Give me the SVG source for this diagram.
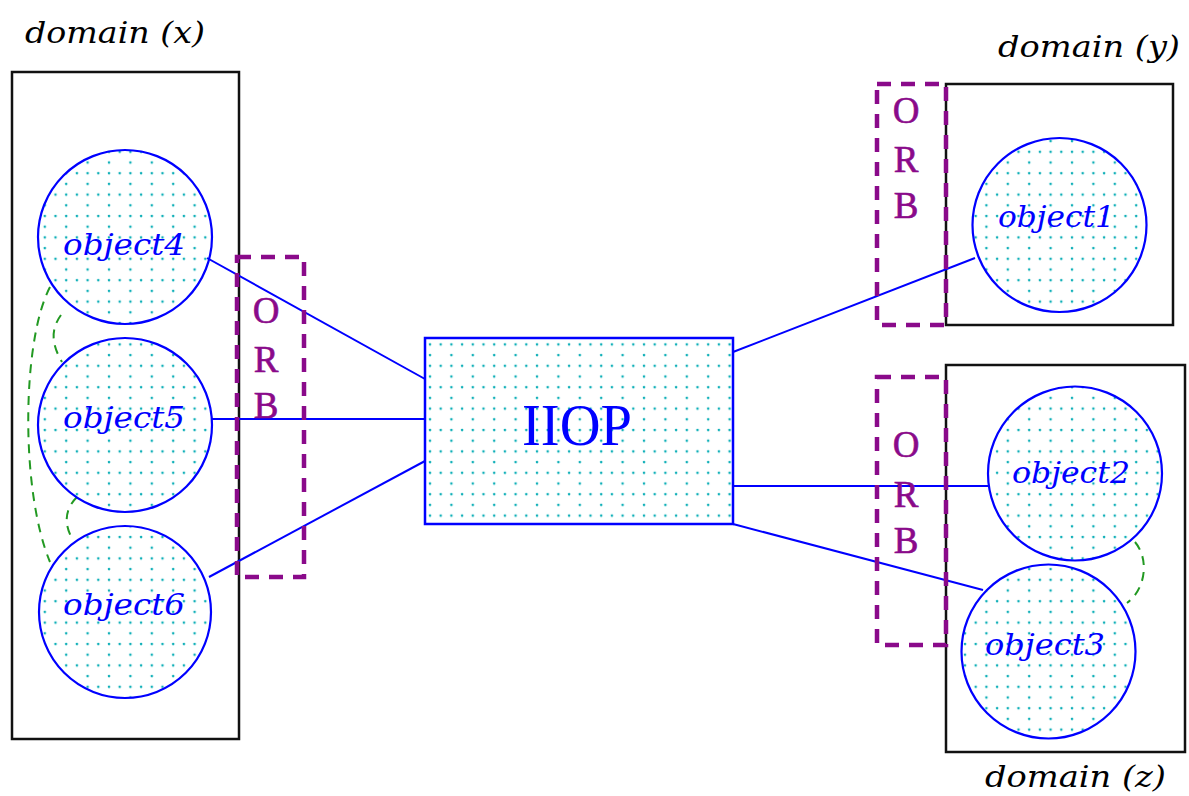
<svg xmlns="http://www.w3.org/2000/svg" width="1189" height="796" viewBox="0 0 1189 796">
<defs>
<pattern id="dots" x="0" y="0" width="21.4" height="21.4" patternUnits="userSpaceOnUse">
<circle cx="2" cy="2" r="1.3" fill="#10b0b8"/>
<circle cx="12.7" cy="2" r="1.3" fill="#10b0b8"/>
<circle cx="2" cy="12.7" r="1.3" fill="#10b0b8"/>
</pattern>
<style>
.domain{fill:none;stroke:#111;stroke-width:2.5}
.orb{fill:none;stroke:#8a0a8a;stroke-width:4.5;stroke-dasharray:14 10}
.orbt{font-family:"Liberation Serif",serif;font-size:37px;fill:#8a0a8a;stroke:#8a0a8a;stroke-width:0.6;text-anchor:middle}
.obj{fill:url(#dots);stroke:#0000ff;stroke-width:2.2}
.objt{font-family:"DejaVu Serif","Liberation Serif",serif;font-style:italic;font-size:29px;fill:#0000ff}
.lbl{font-family:"DejaVu Serif","Liberation Serif",serif;font-style:italic;font-size:30px;fill:#000}
.conn{stroke:#0000ff;stroke-width:2;fill:none}
.rel{stroke:#229922;stroke-width:2;fill:none;stroke-dasharray:9 7}
</style>
</defs>
<rect width="1189" height="796" fill="#fff"/>

<g id="domain-x">
<rect class="domain" x="12" y="72" width="227" height="667"/>
<text class="lbl" x="25" y="43" textLength="180" lengthAdjust="spacingAndGlyphs">domain (x)</text>
</g>
<g id="domain-y">
<rect class="domain" x="946" y="84" width="227" height="241"/>
<text class="lbl" x="998" y="57" textLength="182" lengthAdjust="spacingAndGlyphs">domain (y)</text>
</g>
<g id="domain-z">
<rect class="domain" x="946" y="365" width="239" height="387"/>
<text class="lbl" x="985" y="787" textLength="181" lengthAdjust="spacingAndGlyphs">domain (z)</text>
</g>

<g id="connectors">
<line class="conn" x1="207" y1="258" x2="425" y2="379"/>
<line class="conn" x1="212" y1="419" x2="425" y2="419"/>
<line class="conn" x1="209" y1="577" x2="425" y2="461"/>
<line class="conn" x1="733" y1="352" x2="975" y2="258"/>
<line class="conn" x1="733" y1="486" x2="988" y2="486"/>
<line class="conn" x1="733" y1="524" x2="983" y2="590"/>
<path class="rel" d="M50,287 C22,340 20,490 50,562"/>
<path class="rel" d="M61,315 C50,330 52,345 62,362"/>
<path class="rel" d="M77,497 C64,510 64,525 73,540"/>
<path class="rel" d="M1135,542 C1150,560 1145,590 1127,603"/>
</g>

<g id="orb-x">
<rect class="orb" x="237" y="257" width="67" height="320"/>
<text class="orbt" x="266" y="323">O</text>
<text class="orbt" x="266" y="372">R</text>
<text class="orbt" x="266" y="418">B</text>
</g>
<g id="orb-y">
<rect class="orb" x="877" y="84" width="69" height="241"/>
<text class="orbt" x="906" y="123">O</text>
<text class="orbt" x="906" y="172">R</text>
<text class="orbt" x="906" y="218">B</text>
</g>
<g id="orb-z">
<rect class="orb" x="877" y="377" width="69" height="268"/>
<text class="orbt" x="906" y="457">O</text>
<text class="orbt" x="906" y="507">R</text>
<text class="orbt" x="906" y="553">B</text>
</g>

<g id="iiop">
<rect x="425" y="338" width="308" height="186" fill="url(#dots)" stroke="#0000ff" stroke-width="2.5"/>
<text x="577" y="445" font-family="Liberation Serif,serif" font-size="60" fill="#0000ff" text-anchor="middle" textLength="110" lengthAdjust="spacingAndGlyphs">IIOP</text>
</g>

<g id="object4">
<circle class="obj" cx="125" cy="237" r="87"/>
<text class="objt" x="63" y="255" textLength="122" lengthAdjust="spacingAndGlyphs">object4</text>
</g>
<g id="object5">
<circle class="obj" cx="125" cy="425" r="87"/>
<text class="objt" x="63" y="428" textLength="122" lengthAdjust="spacingAndGlyphs">object5</text>
</g>
<g id="object6">
<circle class="obj" cx="125" cy="612" r="86"/>
<text class="objt" x="63" y="615" textLength="122" lengthAdjust="spacingAndGlyphs">object6</text>
</g>
<g id="object1">
<circle class="obj" cx="1059.5" cy="225" r="87"/>
<text class="objt" x="998" y="227" textLength="117" lengthAdjust="spacingAndGlyphs">object1</text>
</g>
<g id="object2">
<circle class="obj" cx="1075" cy="473.5" r="87"/>
<text class="objt" x="1012" y="483" textLength="118" lengthAdjust="spacingAndGlyphs">object2</text>
</g>
<g id="object3">
<circle class="obj" cx="1048.5" cy="651.5" r="87"/>
<text class="objt" x="985" y="655" textLength="120" lengthAdjust="spacingAndGlyphs">object3</text>
</g>
</svg>
